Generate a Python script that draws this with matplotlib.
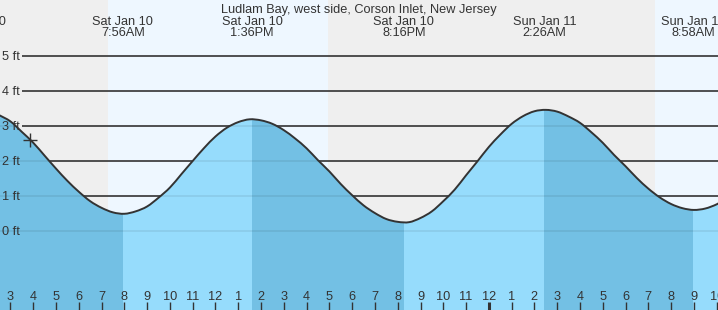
"""Tide chart: Ludlam Bay, west side, Corson Inlet, New Jersey."""

import matplotlib
matplotlib.use("Agg")
import matplotlib.pyplot as plt
import numpy as np
from matplotlib.patches import PathPatch
from matplotlib.path import Path

# --- data (hours counted from midnight, Sat Jan 10) ---
sample_start, sample_step = 2.5, 0.5
tide_ft = [
    3.32, 3.14, 2.84, 2.53, 2.16, 1.79, 1.44, 1.13, 0.86, 0.67, 0.54,
    0.50, 0.57, 0.71, 0.96, 1.25, 1.63, 2.01, 2.38, 2.71, 2.96, 3.12,
    3.20, 3.17, 3.07, 2.89, 2.65, 2.37, 2.03, 1.71, 1.35, 1.03, 0.74,
    0.52, 0.35, 0.27, 0.26, 0.38, 0.57, 0.86, 1.19, 1.60, 2.00, 2.41,
    2.76, 3.07, 3.29, 3.43, 3.47, 3.42, 3.28, 3.10, 2.83, 2.53, 2.18,
    1.86, 1.52, 1.22, 0.97, 0.78, 0.66, 0.61, 0.65, 0.77, 0.95,
]
event_hours = [1.48, 7.933, 13.6, 20.267, 26.433, 32.967]
event_days = ["Sat Jan 10", "Sat Jan 10", "Sat Jan 10", "Sat Jan 10", "Sun Jan 11", "Sun Jan 11"]
event_clock = ["1:29AM", "7:56AM", "1:36PM", "8:16PM", "2:26AM", "8:58AM"]
event_is_high = [True, False, True, False, True, False]
daylight = [(7.28, 16.93), (31.28, 40.0)]
now_hour, now_ft = 3.87, 2.60
tick_hours = list(range(3, 35))
tick_labels = ["3", "4", "5", "6", "7", "8", "9", "10", "11", "12", "1", "2",
               "3", "4", "5", "6", "7", "8", "9", "10", "11", "12", "1", "2",
               "3", "4", "5", "6", "7", "8", "9", "10"]
grid_ft = [0, 1, 2, 3, 4, 5]

TITLE = "Ludlam Bay, west side, Corson Inlet, New Jersey"
W, H = 718, 310
TEXT = "#333333"


def smooth_path(x, y, floor=None):
    """Catmull-Rom style Bezier path through the points (optionally closed down to floor)."""
    pts = np.column_stack([x, y])
    padded = np.vstack([pts[0], pts, pts[-1]])
    verts, codes = [pts[0]], [Path.MOVETO]
    for i in range(len(pts) - 1):
        p0, p1, p2, p3 = padded[i], padded[i + 1], padded[i + 2], padded[i + 3]
        verts += [p1 + (p2 - p0) / 6, p2 - (p3 - p1) / 6, p2]
        codes += [Path.CURVE4] * 3
    if floor is not None:
        verts += [(x[-1], floor), (x[0], floor), pts[0]]
        codes += [Path.LINETO, Path.LINETO, Path.CLOSEPOLY]
    return Path(verts, codes)


plt.rcParams["font.family"] = ["Liberation Sans", "DejaVu Sans"]

fig = plt.figure(figsize=(W / 100, H / 100), dpi=100)
ax = fig.add_axes([0, 0, 1, 1])
ax.set_xlim(2.54, 34.06)
ax.set_ylim(-2.25, 6.61)
ax.axis("off")
fig.patch.set_facecolor("#efefef")

# day / night background
for start, end in daylight:
    ax.axvspan(start, end, color="#eef7ff", lw=0, zorder=0)

# grid lines above the water
ax.hlines(grid_ft, 22 / W, 1, transform=ax.get_yaxis_transform(),
          color=TEXT, lw=1.2, zorder=1)

# water, lighter while rising and darker while falling
t = sample_start + sample_step * np.arange(len(tide_ft))
water = PathPatch(smooth_path(t, tide_ft, floor=-5), facecolor="#96dcfc", lw=0, zorder=2)
ax.add_patch(water)
for i, high in enumerate(event_is_high):
    if high and i + 1 < len(event_hours):
        span = ax.axvspan(event_hours[i], event_hours[i + 1], color="#73c0e4", lw=0, zorder=3)
        span.set_clip_path(water)
faint = ax.hlines(grid_ft, 0, 1, transform=ax.get_yaxis_transform(),
                  color="black", alpha=0.08, lw=1.2, zorder=4)
faint.set_clip_path(water)

ax.add_patch(PathPatch(smooth_path(t, tide_ft), facecolor="none", edgecolor="#333333",
                       lw=1.4, zorder=5))
ax.plot([now_hour], [now_ft], marker="+", ms=10, mew=1.0, color="#333333", zorder=6)

# labels: y labels sit with their baseline ~4 px under the grid line
px_ft = (6.61 + 2.25) / H
for g in grid_ft:
    ax.text(2 / W, g - 4 * px_ft, f"{g} ft", transform=ax.get_yaxis_transform(),
            ha="left", va="baseline", fontsize=9.2, color=TEXT, zorder=7)
ax.text(0.5, 1 - 12.5 / H, TITLE, transform=ax.transAxes, ha="center",
        va="baseline", fontsize=9.2, color=TEXT)
xt = ax.get_xaxis_transform()
for hr, day, clock in zip(event_hours, event_days, event_clock):
    ax.text(hr, 1 - 25 / H, day, transform=xt, ha="center", va="baseline", fontsize=9.2, color=TEXT)
    ax.text(hr, 1 - 36.5 / H, clock, transform=xt, ha="center", va="baseline", fontsize=9.2, color=TEXT)

# hour ticks along the bottom
for hr, lab in zip(tick_hours, tick_labels):
    lw = 2.2 if lab == "12" and hr == 24 else 1.0
    ax.vlines(hr, 0, 8 / H, transform=xt, color=TEXT, lw=lw, zorder=7)
    ax.text(hr, 10 / H, lab, transform=xt, ha="center", va="baseline",
            fontsize=9.2, color=TEXT, zorder=7)

fig.savefig("out.png", dpi=100, facecolor=fig.get_facecolor())
